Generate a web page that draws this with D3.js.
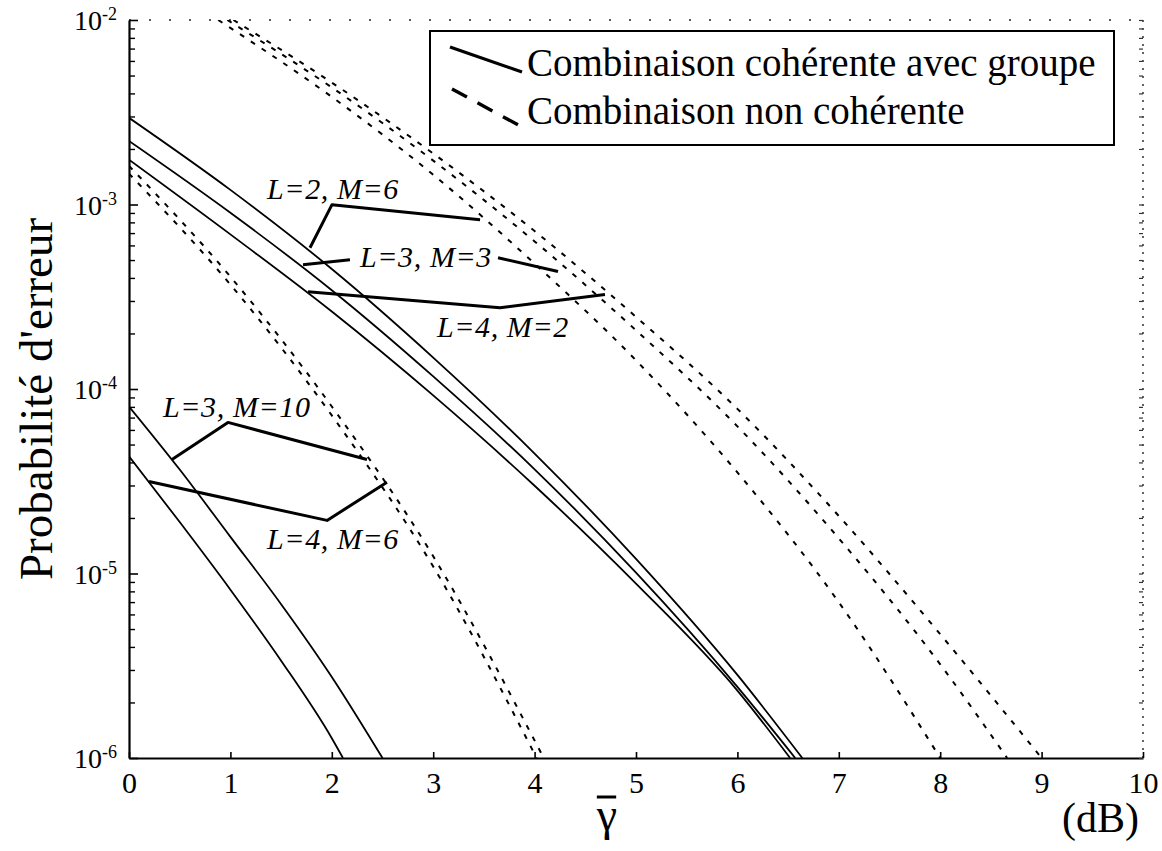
<!DOCTYPE html>
<html>
<head>
<meta charset="utf-8">
<script src="https://cdn.jsdelivr.net/npm/d3@7"></script>
<style>
  body { margin: 0; background: #fff; }
  svg { display: block; }
</style>
</head>
<body>
<svg id="chart" width="1162" height="851"></svg>
<script>
// ---- Data: error probability versus mean SNR per branch (dB) ----
const xTicks = [0, 1, 2, 3, 4, 5, 6, 7, 8, 9, 10];
const yExponents = [-2, -3, -4, -5, -6];

// Coherent combining with groups (solid)
const cohL2M6_dB = [0, 1, 2, 3, 4, 5, 6, 6.64];
const cohL2M6_p  = [2.95e-3, 1.20e-3, 4.47e-4, 1.48e-4, 4.47e-5, 1.20e-5, 2.82e-6, 1e-6];
const cohL3M3_dB = [0, 1, 2, 3, 4, 5, 6, 6.57];
const cohL3M3_p  = [2.21e-3, 9.02e-4, 3.43e-4, 1.17e-4, 3.67e-5, 1.01e-5, 2.43e-6, 1e-6];
const cohL4M2_dB = [0, 1, 2, 3, 4, 5, 6, 6.52];
const cohL4M2_p  = [1.75e-3, 6.89e-4, 2.63e-4, 9.23e-5, 2.99e-5, 8.81e-6, 2.32e-6, 1e-6];
const cohL3M10_dB = [0, 0.5, 1, 1.5, 2, 2.5];
const cohL3M10_p  = [8.04e-5, 3.66e-5, 1.58e-5, 6.82e-6, 2.75e-6, 1e-6];
const cohL4M6_dB = [0, 0.5, 1, 1.5, 2, 2.11];
const cohL4M6_p  = [4.32e-5, 1.90e-5, 8.17e-6, 3.37e-6, 1.28e-6, 1e-6];

// Non-coherent combining (dashed)
const ncL2M6_dB = [0.88, 1, 2, 3, 4, 5, 6, 7, 8.0];
const ncL2M6_p  = [1e-2, 9.06e-3, 3.83e-3, 1.45e-3, 4.78e-4, 1.43e-4, 3.53e-5, 6.98e-6, 1e-6];
const ncL3M3_dB = [0.97, 2, 3, 4, 5, 6, 7, 8, 8.66];
const ncL3M3_p  = [1e-2, 4.31e-3, 1.73e-3, 6.31e-4, 2.08e-4, 6.27e-5, 1.55e-5, 3.22e-6, 1e-6];
const ncL4M2_dB = [1.03, 2, 3, 4, 5, 6, 7, 8, 9.0];
const ncL4M2_p  = [1e-2, 4.58e-3, 1.89e-3, 7.18e-4, 2.46e-4, 7.80e-5, 2.05e-5, 4.69e-6, 1e-6];
const ncL3M10_dB = [0, 1, 2, 3, 4.02];
const ncL3M10_p  = [1.47e-3, 3.68e-4, 7.19e-5, 1.09e-5, 1e-6];
const ncL4M6_dB = [0, 1, 2, 3, 4.09];
const ncL4M6_p  = [1.62e-3, 4.06e-4, 8.04e-5, 1.24e-5, 1e-6];

// Curve labels and their leader lines, in data units (dB, probability)
const labelNames = ["L=2, M=6", "L=3, M=3", "L=4, M=2", "L=3, M=10", "L=4, M=6"];
const labelAt = [[1.361, 1.07e-3], [2.278, 4.60e-4], [3.037, 1.92e-4], [0.335, 7.01e-5], [1.361, 1.35e-5]];
const leaders = [
  [[1.785, 5.83e-4], [2.002, 9.98e-4], [3.462, 8.26e-4]],
  [[1.716, 4.72e-4], [2.179, 5.02e-4]],
  [[3.639, 5.15e-4], [4.231, 4.33e-4]],
  [[1.765, 3.37e-4], [3.659, 2.76e-4], [4.694, 3.25e-4]],
  [[0.424, 4.15e-5], [0.976, 6.59e-5], [2.347, 4.15e-5]],
  [[0.197, 3.15e-5], [1.953, 1.94e-5], [2.544, 3.12e-5]]
];

const legendNames = ["Combinaison cohérente avec groupe", "Combinaison non cohérente"];

// ---- Layout ----
const svg = d3.select("#chart");
const W = 1162, H = 851;
const plot = { left: 129, right: 1143, top: 20, bottom: 758 };
const serif = "'Liberation Serif', 'Times New Roman', Times, serif";

svg.append("rect").attr("width", W).attr("height", H).attr("fill", "#fff");

const x = d3.scaleLinear().domain([0, 10]).range([plot.left, plot.right]);
const y = d3.scaleLog().domain([1e-6, 1e-2]).range([plot.bottom, plot.top]);

svg.append("clipPath").attr("id", "plotClip")
  .append("rect")
  .attr("x", plot.left).attr("y", plot.top)
  .attr("width", plot.right - plot.left).attr("height", plot.bottom - plot.top);

// ---- Frame: dotted top and right edges ----
svg.append("line")
  .attr("x1", plot.left).attr("x2", plot.right)
  .attr("y1", plot.top).attr("y2", plot.top)
  .attr("stroke", "#222").attr("stroke-width", 1.6)
  .attr("stroke-dasharray", "2,18");
svg.append("line")
  .attr("x1", plot.right).attr("x2", plot.right)
  .attr("y1", plot.top).attr("y2", plot.bottom)
  .attr("stroke", "#222").attr("stroke-width", 1.4)
  .attr("stroke-dasharray", "2,6");

// ---- Axes ----
const minorVals = [];
for (let e = -6; e < -2; e++) {
  for (let k = 2; k <= 9; k++) minorVals.push(k * Math.pow(10, e));
}
const majorVals = yExponents.map(e => Math.pow(10, e));

const gx = svg.append("g").attr("transform", `translate(0,${plot.bottom})`)
  .call(d3.axisBottom(x).tickValues(xTicks).tickSize(-6).tickSizeOuter(0).tickFormat(d3.format("d")));
gx.select(".domain").attr("stroke-width", 2.2);
gx.selectAll(".tick line").attr("stroke-width", 1.6);
gx.selectAll(".tick text")
  .attr("y", 35).attr("dy", 0)
  .attr("font-family", serif).attr("font-size", 30).attr("fill", "#000");

const gy = svg.append("g").attr("transform", `translate(${plot.left},0)`)
  .call(d3.axisLeft(y).tickValues(majorVals).tickSize(-9).tickSizeOuter(0).tickFormat(""));
gy.select(".domain").attr("stroke-width", 2.2);
gy.selectAll(".tick line").attr("stroke-width", 1.6);

const gyMinor = svg.append("g").attr("transform", `translate(${plot.left},0)`)
  .call(d3.axisLeft(y).tickValues(minorVals).tickSize(-6).tickSizeOuter(0).tickFormat(""));
gyMinor.select(".domain").remove();
gyMinor.selectAll(".tick line").attr("stroke-width", 1.4);

// small inward ticks along the dotted right edge
const gyRight = svg.append("g").attr("transform", `translate(${plot.right},0)`)
  .call(d3.axisRight(y).tickValues(majorVals.concat(minorVals)).tickSize(-4).tickSizeOuter(0).tickFormat(""));
gyRight.select(".domain").remove();
gyRight.selectAll(".tick line").attr("stroke", "#333").attr("stroke-width", 1.2);

// power-of-ten tick labels
const yLab = svg.append("g");
yExponents.forEach(e => {
  const t = yLab.append("text")
    .attr("x", 117).attr("y", y(Math.pow(10, e)) + 10)
    .attr("text-anchor", "end")
    .attr("font-family", serif).attr("fill", "#000");
  t.append("tspan").attr("font-size", 28).text("10");
  t.append("tspan").attr("font-size", 18).attr("dy", -10).text(String(e));
});

// axis titles
svg.append("text")
  .attr("transform", `translate(52,${(plot.top + plot.bottom) / 2 + 10}) rotate(-90)`)
  .attr("text-anchor", "middle")
  .attr("font-family", serif).attr("font-size", 47).attr("fill", "#000")
  .text("Probabilité d'erreur");

const gammaLabel = svg.append("text")
  .attr("x", 607).attr("y", 830)
  .attr("text-anchor", "middle")
  .attr("font-family", serif).attr("font-size", 46).attr("fill", "#000")
  .text("γ");
// bar over the gamma (mean value)
const gb = gammaLabel.node().getBBox();
svg.append("line")
  .attr("x1", gb.x + 1).attr("x2", gb.x + gb.width - 1)
  .attr("y1", 797).attr("y2", 797)
  .attr("stroke", "#000").attr("stroke-width", 3);

svg.append("text")
  .attr("x", 1062).attr("y", 832)
  .attr("font-family", serif).attr("font-size", 42).attr("fill", "#000")
  .text("(dB)");

// ---- Curves ----
const zip = (xs, ps) => xs.map((v, i) => [v, ps[i]]);
const coherent = [
  zip(cohL2M6_dB, cohL2M6_p), zip(cohL3M3_dB, cohL3M3_p), zip(cohL4M2_dB, cohL4M2_p),
  zip(cohL3M10_dB, cohL3M10_p), zip(cohL4M6_dB, cohL4M6_p)
];
const nonCoherent = [
  zip(ncL2M6_dB, ncL2M6_p), zip(ncL3M3_dB, ncL3M3_p), zip(ncL4M2_dB, ncL4M2_p),
  zip(ncL3M10_dB, ncL3M10_p), zip(ncL4M6_dB, ncL4M6_p)
];

const line = d3.line()
  .x(d => x(d[0])).y(d => y(d[1]))
  .curve(d3.curveMonotoneX);

const curves = svg.append("g").attr("clip-path", "url(#plotClip)");
curves.selectAll("path.nc").data(nonCoherent).join("path")
  .attr("class", "nc")
  .attr("d", line)
  .attr("fill", "none").attr("stroke", "#000")
  .attr("stroke-width", 2).attr("stroke-dasharray", "5,8");
curves.selectAll("path.coh").data(coherent).join("path")
  .attr("class", "coh")
  .attr("d", line)
  .attr("fill", "none").attr("stroke", "#000")
  .attr("stroke-width", 1.8);

// ---- Annotations ----
const leaderLine = d3.line().x(d => x(d[0])).y(d => y(d[1]));
svg.append("g").selectAll("path").data(leaders).join("path")
  .attr("d", leaderLine)
  .attr("fill", "none").attr("stroke", "#000")
  .attr("stroke-width", 3).attr("stroke-linejoin", "round");

svg.append("g").selectAll("text").data(labelNames).join("text")
  .attr("x", (d, i) => x(labelAt[i][0]))
  .attr("y", (d, i) => y(labelAt[i][1]))
  .attr("font-family", serif).attr("font-style", "italic")
  .attr("font-size", 30).attr("letter-spacing", 0.6).attr("fill", "#000")
  .text(d => d);

// ---- Legend ----
const lg = svg.append("g");
lg.append("rect")
  .attr("x", 430).attr("y", 31).attr("width", 684).attr("height", 114)
  .attr("fill", "#fff").attr("stroke", "#000").attr("stroke-width", 2);
lg.append("line")
  .attr("x1", 450).attr("y1", 47).attr("x2", 522).attr("y2", 72)
  .attr("stroke", "#000").attr("stroke-width", 3.2);
lg.append("line")
  .attr("x1", 452).attr("y1", 89).attr("x2", 522).attr("y2", 127)
  .attr("stroke", "#000").attr("stroke-width", 3.4)
  .attr("stroke-dasharray", "17,12");
lg.selectAll("text").data(legendNames).join("text")
  .attr("x", 527).attr("y", (d, i) => 76 + i * 48)
  .attr("font-family", serif).attr("font-size", 39).attr("fill", "#000")
  .text(d => d);
</script>
</body>
</html>
